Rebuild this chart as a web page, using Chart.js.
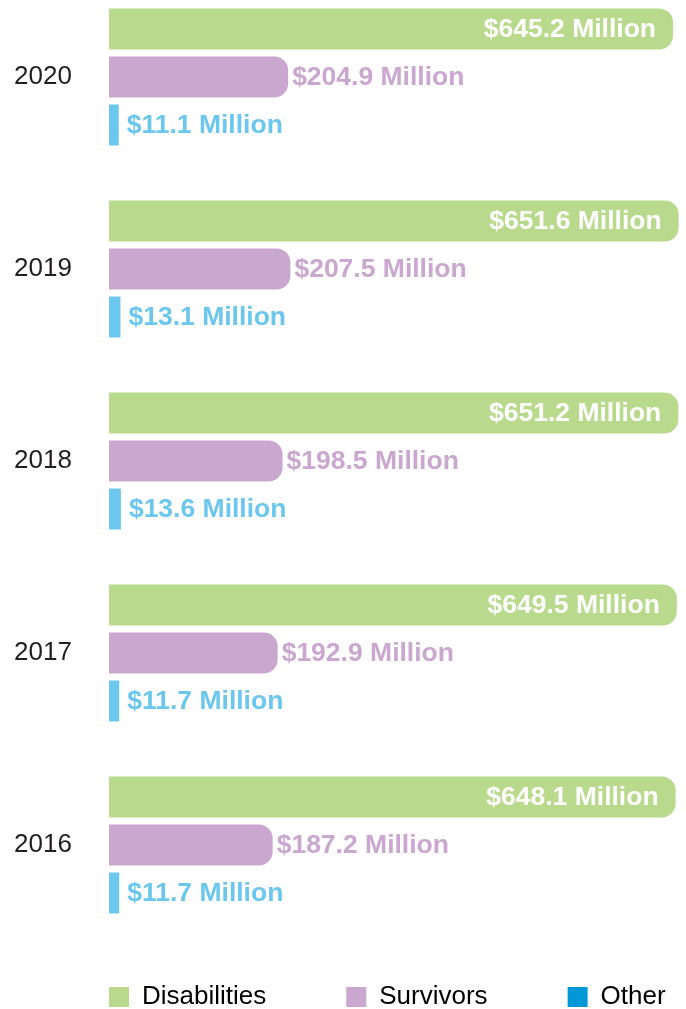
<!DOCTYPE html>
<html>
<head>
<meta charset="utf-8">
<script src="https://cdn.jsdelivr.net/npm/chart.js@4.4.0/dist/chart.umd.min.js"></script>
<style>
  html, body { margin: 0; padding: 0; background: #fff; overflow: hidden; }
  #wrap { position: relative; width: 686px; height: 1009px; overflow: hidden; }
  canvas { position: absolute; left: 0; top: 0; }
</style>
</head>
<body>
<div id="wrap"><canvas id="myChart" width="686" height="1020"></canvas></div>
<script>
// values (millions of dollars)
const years = ["2020", "2019", "2018", "2017", "2016"];
const disabilities = [645.2, 651.6, 651.2, 649.5, 648.1];
const survivors = [204.9, 207.5, 198.5, 192.9, 187.2];
const other = [11.1, 13.1, 13.6, 11.7, 11.7];
const seriesNames = ["Disabilities", "Survivors", "Other"];

const barColors = ["#b9da8c", "#caa7cf", "#6cc7ef"];
const legendColors = ["#b9da8c", "#caa7cf", "#0098d7"];
const labelColors = ["#ffffff", "#caa7cf", "#6cc7ef"];

Chart.defaults.font.family = "'Liberation Sans', Arial, sans-serif";

// draws the "$xxx.x Million" labels next to / inside each bar
const valueLabels = {
  id: "valueLabels",
  afterDatasetsDraw(chart) {
    const ctx = chart.ctx;
    ctx.save();
    ctx.font = "bold 26.5px 'Liberation Sans', Arial, sans-serif";
    ctx.textBaseline = "middle";
    chart.data.datasets.forEach(function (ds, di) {
      const meta = chart.getDatasetMeta(di);
      meta.data.forEach(function (bar, i) {
        const txt = "$" + ds.data[i].toFixed(1) + " Million";
        ctx.fillStyle = labelColors[di];
        if (di === 0) {
          ctx.textAlign = "right";
          ctx.fillText(txt, bar.x - 17, bar.y + 1);
        } else {
          ctx.textAlign = "left";
          ctx.fillText(txt, bar.x + (di === 1 ? 4 : 8), bar.y + 1);
        }
      });
    });
    ctx.restore();
  }
};

const ctx = document.getElementById("myChart").getContext("2d");
const myChart = new Chart(ctx, {
  type: "bar",
  data: {
    labels: years,
    datasets: [
      { label: seriesNames[0], data: disabilities, backgroundColor: barColors[0], borderRadius: 14 },
      { label: seriesNames[1], data: survivors, backgroundColor: barColors[1], borderRadius: 14 },
      { label: seriesNames[2], data: other, backgroundColor: barColors[2], borderRadius: 0 }
    ]
  },
  options: {
    indexAxis: "y",
    responsive: false,
    animation: false,
    categoryPercentage: 0.75,
    barPercentage: 0.854,
    clip: false,
    // negative right padding widens the legend row so its three items stay on one line
    layout: { padding: { top: 77, left: 29, right: -70, bottom: 0 } },
    scales: {
      y: {
        offset: false,
        grid: { display: false, drawTicks: false },
        border: { display: false },
        ticks: { color: "#231f20", font: { size: 26 }, mirror: true, crossAlign: "near", padding: -95 },
        afterFit: function (scale) { scale.width = 80; }
      },
      x: {
        min: 0,
        max: 660,
        grid: { display: false, drawTicks: false },
        border: { display: false },
        ticks: { display: false },
        afterFit: function (scale) { scale.height = 59; }
      }
    },
    plugins: {
      tooltip: { enabled: false },
      legend: {
        position: "bottom",
        align: "start",
        labels: {
          boxWidth: 20,
          boxHeight: 20,
          padding: 80,
          color: "#231f20",
          font: { size: 26 },
          generateLabels: function (chart) {
            return chart.data.datasets.map(function (ds, i) {
              return {
                text: ds.label,
                fillStyle: legendColors[i],
                strokeStyle: legendColors[i],
                lineWidth: 0,
                hidden: false,
                datasetIndex: i
              };
            });
          }
        }
      }
    }
  },
  plugins: [valueLabels]
});
</script>
</body>
</html>
